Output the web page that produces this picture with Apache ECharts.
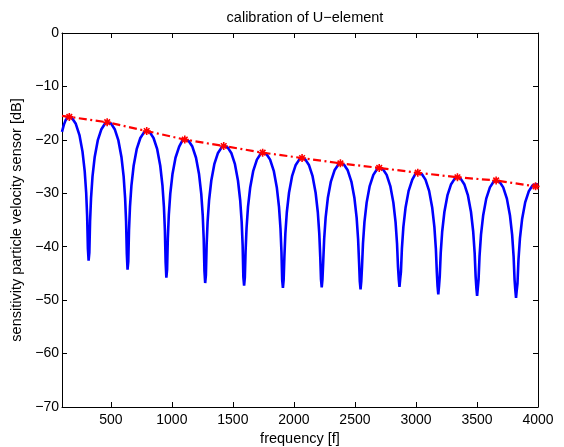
<!DOCTYPE html>
<html>
<head>
<meta charset="utf-8">
<script src="https://cdn.jsdelivr.net/npm/echarts@6/dist/echarts.min.js"></script>
<style>
  html, body { margin: 0; padding: 0; background: #fff; }
  #chart { width: 564px; height: 447px; }
</style>
</head>
<body>
<div id="chart"></div>
<script>
// Measured sensitivity of the U-element, frequency [Hz] vs level [dB], one lobe per line
const sensitivityCurve = [
  [100,-18.5],[115,-17.2],[130,-16.3],[145,-15.85],[160,-15.7],[183,-15.95],[213,-17.0],[243,-19.1],[268,-22.2],[286,-25.85],[298,-29.85],[306,-34.25],[312,-40.25],[318,-42.6],
  [324,-41.1],[330,-35.25],[338,-30.85],[350,-26.85],[368,-23.2],[393,-20.1],[423,-18.0],[453,-16.95],[470,-16.7],[502,-16.95],[532,-18.0],[562,-20.1],[587,-23.2],[605,-26.85],[617,-30.85],[625,-35.25],[631,-41.25],[637,-44.3],
  [643,-42.8],[649,-36.9],[657,-32.5],[669,-28.5],[687,-24.85],[712,-21.75],[742,-19.65],[772,-18.6],[794,-18.35],[820,-18.6],[850,-19.65],[880,-21.75],[905,-24.85],[923,-28.5],[935,-32.5],[943,-36.9],[949,-42.9],[955,-45.8],
  [961,-44.3],[967,-38.5],[975,-34.1],[987,-30.1],[1005,-26.45],[1030,-23.35],[1060,-21.25],[1085,-20.2],[1106,-19.95],[1138,-20.2],[1168,-21.25],[1198,-23.35],[1223,-26.45],[1241,-30.1],[1253,-34.1],[1261,-38.5],[1267,-44.5],[1273,-46.8],
  [1279,-45.3],[1285,-39.7],[1293,-35.3],[1305,-31.3],[1323,-27.65],[1348,-24.55],[1378,-22.45],[1408,-21.4],[1425,-21.15],[1457,-21.4],[1487,-22.45],[1517,-24.55],[1542,-27.65],[1560,-31.3],[1572,-35.3],[1580,-39.7],[1586,-45.7],[1592,-47.3],
  [1598,-45.8],[1604,-40.95],[1612,-36.55],[1624,-32.55],[1642,-28.9],[1667,-25.8],[1697,-23.7],[1727,-22.65],[1744,-22.4],[1775,-22.65],[1805,-23.7],[1835,-25.8],[1860,-28.9],[1878,-32.55],[1890,-36.55],[1898,-40.95],[1904,-46.2],[1910,-47.7],
  [1916,-46.2],[1922,-41.95],[1930,-37.55],[1942,-33.55],[1960,-29.9],[1985,-26.8],[2015,-24.7],[2045,-23.65],[2067,-23.4],[2093,-23.65],[2123,-24.7],[2153,-26.8],[2178,-29.9],[2196,-33.55],[2208,-37.55],[2216,-41.95],[2222,-46.1],[2228,-47.6],
  [2234,-46.1],[2240,-42.95],[2248,-38.55],[2260,-34.55],[2278,-30.9],[2303,-27.8],[2333,-25.7],[2363,-24.65],[2381,-24.4],[2411,-24.65],[2441,-25.7],[2471,-27.8],[2496,-30.9],[2514,-34.55],[2526,-38.55],[2534,-42.95],[2540,-46.5],[2546,-48.0],
  [2552,-46.5],[2558,-43.8],[2566,-39.4],[2578,-35.4],[2596,-31.75],[2621,-28.65],[2651,-26.55],[2681,-25.5],[2699,-25.25],[2730,-25.5],[2760,-26.55],[2790,-28.65],[2815,-31.75],[2833,-35.4],[2845,-39.4],[2853,-43.8],[2859,-46.0],[2865,-47.5],
  [2871,-46.0],[2877,-44.7],[2885,-40.3],[2897,-36.3],[2915,-32.65],[2940,-29.55],[2970,-27.45],[2995,-26.4],[3015,-26.15],[3048,-26.4],[3078,-27.45],[3108,-29.55],[3133,-32.65],[3151,-36.3],[3163,-40.3],[3171,-44.7],[3177,-47.4],[3183,-48.9],
  [3189,-47.4],[3195,-45.55],[3203,-41.15],[3215,-37.15],[3233,-33.5],[3258,-30.4],[3288,-28.3],[3318,-27.25],[3340,-27.0],[3366,-27.25],[3396,-28.3],[3426,-30.4],[3451,-33.5],[3469,-37.15],[3481,-41.15],[3489,-45.55],[3495,-47.7],[3501,-49.2],
  [3507,-47.7],[3513,-46.15],[3521,-41.75],[3533,-37.75],[3551,-34.1],[3576,-31.0],[3606,-28.9],[3636,-27.85],[3657,-27.6],[3685,-27.85],[3715,-28.9],[3745,-31.0],[3770,-34.1],[3788,-37.75],[3800,-41.75],[3808,-46.15],[3814,-48.1],[3820,-49.6],
  [3826,-48.1],[3832,-46.85],[3840,-42.45],[3852,-38.45],[3870,-34.8],[3895,-31.7],[3925,-29.6],[3955,-28.55],[3978,-28.35],[4000,-28.3]
];

// Lobe maxima (calibration points) and the envelope start at the left edge
const peakFreq = [160, 470, 794, 1106, 1425, 1744, 2067, 2381, 2699, 3015, 3340, 3657, 3980];
const peakDb   = [-15.7, -16.7, -18.35, -19.95, -21.15, -22.4, -23.4, -24.4, -25.25, -26.15, -27.0, -27.6, -28.7];
const envelopeStart = [100, -15.5];

// Axis ticks
const freqTicks = [500, 1000, 1500, 2000, 2500, 3000, 3500, 4000];
const freqMin = 100, freqMax = 4000;
const dbMin = -70, dbMax = 0, dbStep = 10;

const FONT = "'Liberation Sans', Arial, Helvetica, sans-serif";
const minus = v => (v < 0 ? '\u2212' + Math.abs(v) : String(v));
const asterisk = 'path://M5,0L5,10M0,5L10,5M1.5,1.5L8.5,8.5M8.5,1.5L1.5,8.5';

const envelopeData = [{ value: envelopeStart, symbol: 'none' }]
  .concat(peakFreq.map((f, i) => [f, peakDb[i]]));

const tickStyle = { show: true, inside: true, length: 5, lineStyle: { color: '#000', width: 1 } };
const lineStyleAxis = { show: true, onZero: false, lineStyle: { color: '#000', width: 1 } };

const chart = echarts.init(document.getElementById('chart'), null, { renderer: 'canvas' });
chart.setOption({
  animation: false,
  backgroundColor: '#fff',
  textStyle: { fontFamily: FONT },
  title: {
    text: 'calibration of U\u2212element',
    left: 300, top: 5, textAlign: 'center',
    textStyle: { fontFamily: FONT, fontSize: 14.5, fontWeight: 'normal', color: '#000' }
  },
  grid: { left: 62, right: 26, top: 33, bottom: 40, containLabel: false, outerBoundsMode: 'none' },
  xAxis: [
    {
      type: 'value', min: freqMin, max: freqMax, position: 'bottom',
      name: 'frequency [f]', nameLocation: 'middle', nameGap: 22,
      nameTextStyle: { fontFamily: FONT, fontSize: 14.5, color: '#000' },
      axisLine: lineStyleAxis,
      axisTick: Object.assign({ customValues: freqTicks }, tickStyle),
      axisLabel: { customValues: freqTicks, formatter: v => String(v), margin: 6,
        fontFamily: FONT, fontSize: 14, color: '#000' },
      splitLine: { show: false }
    },
    {
      type: 'value', min: freqMin, max: freqMax, position: 'top',
      axisLine: lineStyleAxis,
      axisTick: Object.assign({ customValues: freqTicks }, tickStyle),
      axisLabel: { show: false },
      splitLine: { show: false }
    }
  ],
  yAxis: [
    {
      type: 'value', min: dbMin, max: dbMax, interval: dbStep, position: 'left',
      name: 'sensitivity particle velocity sensor [dB]', nameLocation: 'middle', nameGap: 30,
      nameTextStyle: { fontFamily: FONT, fontSize: 14.5, color: '#000' },
      axisLine: lineStyleAxis,
      axisTick: tickStyle,
      axisLabel: { formatter: minus, margin: 3, fontFamily: FONT, fontSize: 14, color: '#000' },
      splitLine: { show: false }
    },
    {
      type: 'value', min: dbMin, max: dbMax, interval: dbStep, position: 'right',
      axisLine: lineStyleAxis,
      axisTick: tickStyle,
      axisLabel: { show: false },
      splitLine: { show: false }
    }
  ],
  series: [
    {
      name: 'sensitivity',
      type: 'line',
      xAxisIndex: 0, yAxisIndex: 0,
      data: sensitivityCurve,
      showSymbol: false,
      symbol: 'none',
      lineStyle: { color: '#0000ff', width: 2.6 },
      itemStyle: { color: '#0000ff' },
      clip: true,
      silent: true,
      z: 2
    },
    {
      name: 'envelope',
      type: 'line',
      xAxisIndex: 0, yAxisIndex: 0,
      data: envelopeData,
      symbol: asterisk,
      symbolSize: 8,
      showAllSymbol: true,
      itemStyle: { color: '#ff0000', borderColor: '#ff0000', borderWidth: 1.6 },
      lineStyle: { color: '#ff0000', width: 2.2, type: [8, 3.5, 2, 3.5] },
      clip: true,
      silent: true,
      z: 3
    }
  ]
});
</script>
</body>
</html>
